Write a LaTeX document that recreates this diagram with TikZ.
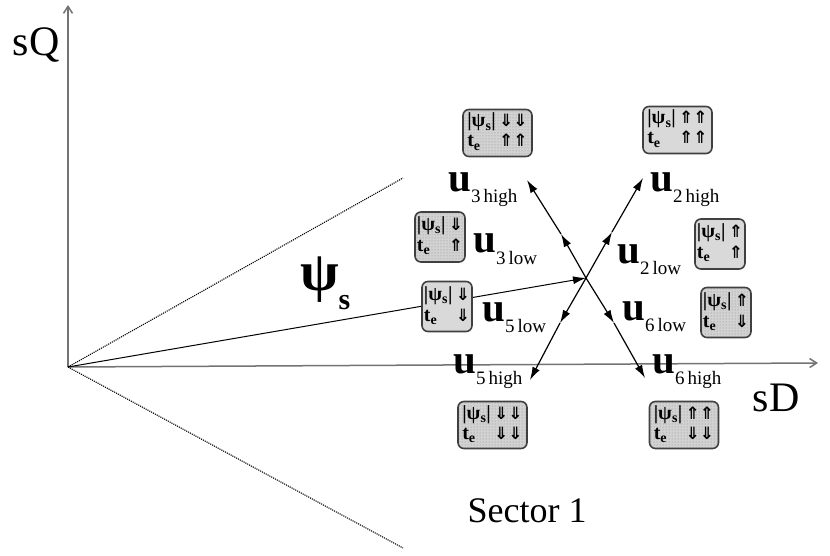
\documentclass[tikz,border=0pt]{standalone}
\usepackage{fontspec}
\setmainfont{Liberation Serif}
\newfontfamily\arrowfont{DejaVu Sans}
\usetikzlibrary{arrows.meta,patterns}

% label u_k with its level
\newcommand{\ulab}[2]{{\fontsize{41}{41}\selectfont\bfseries u}\raisebox{-11pt}{\fontsize{19}{19}\selectfont #1\,#2}}
% small tables: flux and torque effect
\newcommand{\fl}{|ψ\textsubscript{s}|}
\newcommand{\tq}{t\textsubscript{e}}
\newcommand{\ar}[1]{{\arrowfont\bfseries\fontsize{17}{17}\selectfont #1}}
\newcommand{\effhigh}[2]{\fontsize{20}{20}\selectfont\bfseries\begin{tabular}{@{}l@{\,}c@{}c@{}}\fl & \ar{#1} & \ar{#1}\\ \tq & \ar{#2} & \ar{#2}\end{tabular}}
\newcommand{\efflow}[2]{\fontsize{20}{21}\selectfont\bfseries\begin{tabular}{@{}l@{\,}c@{}}\fl & \ar{#1}\\ \tq & \ar{#2}\end{tabular}}

\begin{document}
\begin{tikzpicture}[x=1pt, y=-1pt,
    axis/.style={draw=black!55, line width=1.5pt, -{Straight Barb[length=7pt,width=9pt]}},
    vec/.style={line width=1.2pt, -{Latex[length=13pt,width=8pt]}},
    effbox/.style={draw=black!75, line width=1.6pt, rounded corners=6pt, inner sep=0pt, align=center},
    highbox/.style={effbox, minimum width=69pt, minimum height=47pt},
    lowbox/.style={effbox, minimum width=50pt, minimum height=50pt},
    plain/.style={fill=gray!30},
    dotty/.style={preaction={fill=gray!35}, pattern=dots, pattern color=gray!90},
    ulabel/.style={anchor=base west, inner sep=0pt}]
    \useasboundingbox (0,0) rectangle (830,556);

    % axes
    \coordinate (o) at (68,367);
    \coordinate (qtop) at (68,5);
    \coordinate (dend) at (818,363);
    \draw[axis] (o) -- (qtop);
    \draw[axis] (o) -- (dend);
    \node[font=\fontsize{42}{42}\selectfont] (sq) at (36,45) {sQ};
    \node[font=\fontsize{42}{42}\selectfont] (sd) at (776,398) {sD};

    % sector limits
    \coordinate (lim1) at (403,178);
    \coordinate (lim2) at (403,548);
    \draw[densely dotted, line width=1.1pt] (o) -- (lim1);
    \draw[densely dotted, line width=1.1pt] (o) -- (lim2);
    \node[font=\fontsize{36}{36}\selectfont] (sect) at (527,511) {Sector 1};

    % stator flux
    \coordinate (c) at (586,278);
    \draw[vec, line width=1pt] (o) -- (c);
    \node[ulabel] (psi) at (300,290) {{\fontsize{56}{56}\selectfont\bfseries ψ}\raisebox{-19pt}{\fontsize{30}{30}\selectfont\bfseries s}};

    % voltage vectors
    \coordinate (m2) at (612,232);  \coordinate (e2) at (643,178);
    \coordinate (m3) at (561,234);  \coordinate (e3) at (527,180);
    \coordinate (m5) at (560,323);  \coordinate (e5) at (530,380);
    \coordinate (m6) at (614,323);  \coordinate (e6) at (645,378);
    \foreach \k in {2,3,5,6} {
        \draw[vec] (c) -- (m\k);
        \draw[vec] (m\k) -- (e\k);
    }

    % labels
    \node[ulabel] (u3h) at (448,192) {\ulab{3}{high}};
    \node[ulabel] (u2h) at (650,192) {\ulab{2}{high}};
    \node[ulabel] (u3l) at (473,253) {\ulab{3}{low}};
    \node[ulabel] (u2l) at (617,263) {\ulab{2}{low}};
    \node[ulabel] (u5l) at (482,321) {\ulab{5}{low}};
    \node[ulabel] (u6l) at (622,320) {\ulab{6}{low}};
    \node[ulabel] (u5h) at (453,373) {\ulab{5}{high}};
    \node[ulabel] (u6h) at (652,373) {\ulab{6}{high}};

    % effect boxes
    \node[highbox, dotty] (b3h) at (497.5,133) {\effhigh{⇓}{⇑}};
    \node[highbox, plain] (b2h) at (677.5,130) {\effhigh{⇑}{⇑}};
    \node[lowbox, dotty] (b3l) at (440,237) {\efflow{⇓}{⇑}};
    \node[lowbox, plain] (b2l) at (720,244) {\efflow{⇑}{⇑}};
    \node[lowbox, plain] (b5l) at (447,306.5) {\efflow{⇓}{⇓}};
    \node[lowbox, dotty] (b6l) at (726,312.5) {\efflow{⇑}{⇓}};
    \node[highbox, dotty] (b5h) at (492.5,425) {\effhigh{⇓}{⇓}};
    \node[highbox, dotty] (b6h) at (684,425) {\effhigh{⇑}{⇓}};
\end{tikzpicture}
\end{document}
